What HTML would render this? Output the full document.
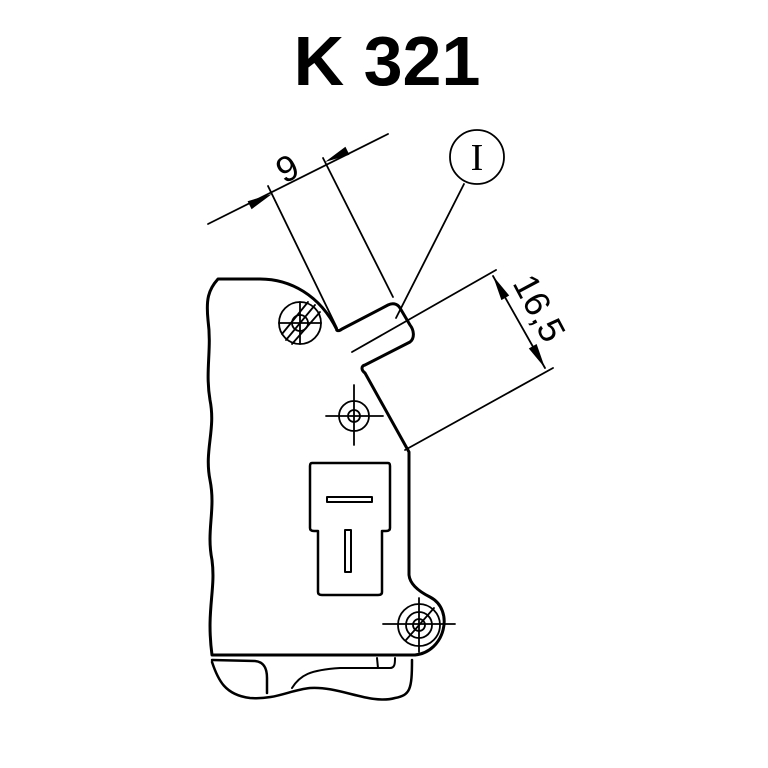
<!DOCTYPE html>
<html><head><style>
html,body{margin:0;padding:0;background:#fff;width:768px;height:768px;overflow:hidden}
</style></head><body>
<svg width="768" height="768" viewBox="0 0 768 768" xmlns="http://www.w3.org/2000/svg">
<text x="387" y="85" text-anchor="middle" font-family="Liberation Sans, sans-serif" font-weight="bold" font-size="70">K 321</text>
<g fill="none" stroke="#000" stroke-linecap="round" stroke-linejoin="round">
<path stroke-width="3" d="M337,330 C320,295 290,279 260,279 L218,279 C208,290 206,300 208,320 C212,350 205,370 210,400 C216,430 204,450 210,480 C216,510 206,530 212,560 C216,590 206,610 212,655 L415,655 C445,652 455,610 430,597 C420,592 410,585 409,575 L409,452 L365,373 C361,370 361,366 365,365 L410,342 C415,338 414,330 410,325 L400,308 C397,303 392,303 388,305 L342,329 C338,332 336,330 337,330"/>
<path stroke-width="2.5" d="M212,660 L255,661 C265,662 267,670 267,678 L267,693"/>
<path stroke-width="2.5" d="M212,662 C218,680 225,695 250,698 C275,700 290,690 310,688 C340,686 370,705 395,698 C410,695 412,690 412,660"/>
<path stroke-width="2" d="M292,688 C300,675 310,670 340,668 L390,668 C395,668 395,663 395,658"/>
<path stroke-width="2" d="M377,658 L378,668"/>
<path stroke-width="2.5" d="M312,463 L388,463 Q390,463 390,466 L390,528 Q390,531 386,531 L382,531 L382,592 Q382,595 378,595 L322,595 Q318,595 318,592 L318,531 L314,531 Q310,531 310,528 L310,466 Q310,463 312,463 Z"/>
<rect x="327" y="497" width="45" height="5" stroke-width="2"/>
<rect x="345" y="530" width="6" height="42" stroke-width="2"/>
<g stroke-width="1.8">
<circle cx="300" cy="323" r="21"/><circle cx="300" cy="323" r="8"/>
<line x1="279" y1="323" x2="321" y2="323"/><line x1="300" y1="302" x2="300" y2="344"/>
<line x1="286" y1="340" x2="315" y2="305"/><line x1="292" y1="344" x2="320" y2="312"/><line x1="282" y1="334" x2="308" y2="302"/>
<circle cx="354" cy="416" r="15"/><circle cx="354" cy="416" r="6"/>
<line x1="326" y1="416" x2="383" y2="416"/><line x1="354" y1="385" x2="354" y2="445"/>
<circle cx="419" cy="625" r="21"/><circle cx="419" cy="625" r="13"/><circle cx="419" cy="625" r="6"/>
<line x1="383" y1="624" x2="455" y2="624"/><line x1="419" y1="598" x2="419" y2="652"/>
<line x1="406" y1="640" x2="434" y2="608"/>
</g>
<g stroke-width="1.8">
<line x1="208" y1="224" x2="388" y2="134"/>
<line x1="268" y1="186" x2="337" y2="328"/>
<line x1="323" y1="158" x2="393" y2="297"/>
<circle cx="477" cy="157" r="27"/>
<line x1="464" y1="184" x2="396" y2="318"/>
<line x1="496" y1="270" x2="352" y2="352"/>
<line x1="553" y1="368" x2="405" y2="450"/>
<line x1="493" y1="276" x2="545" y2="368"/>
</g>
</g>
<g fill="#000">
<polygon points="272,194 251.6,209.2 247.6,201.2"/>
<polygon points="325,162 349.4,154.8 345.4,146.8"/>
<polygon points="493,276 509.2,295.5 501.4,300.1"/>
<polygon points="545,368 536.6,344 528.8,348.5"/>
</g>
<text x="284" y="184" font-family="Liberation Sans, sans-serif" font-size="36" transform="rotate(-27 284 184)">9</text>
<text x="477" y="170" text-anchor="middle" font-family="Liberation Serif, serif" font-size="38">I</text>
<text x="512" y="283" font-family="Liberation Sans, sans-serif" font-size="36" transform="rotate(62 512 283)">16,5</text>
</svg>
</body></html>
